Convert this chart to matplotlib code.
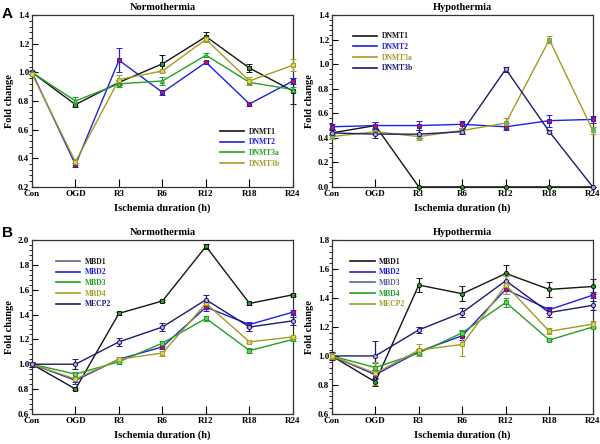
import numpy as np
import matplotlib
matplotlib.use("Agg")
import matplotlib.pyplot as plt
from matplotlib.ticker import MultipleLocator

plt.rcParams['font.family'] = ['Liberation Serif', 'DejaVu Serif']
plt.rcParams['font.weight'] = 'bold'

TIMEPOINTS = ["Con", "OGD", "R3", "R6", "R12", "R18", "R24"]

BLACK = "#151515"
BLUE = "#2020e0"
GREEN = "#24a024"
OLIVE = "#a39b22"
NAVY = "#1c1c70"
SLATE = "#5a6898"

# Panel A - Normothermia
a_norm_names = ["DNMT1", "DNMT2", "DNMT3a", "DNMT3b"]
a_norm_vals = [
    [1.00, 0.775, 0.93, 1.06, 1.25, 1.03, 0.87],
    [1.00, 0.355, 1.085, 0.86, 1.07, 0.78, 0.94],
    [1.00, 0.80, 0.92, 0.94, 1.12, 0.93, 0.88],
    [0.99, 0.375, 0.95, 1.01, 1.23, 0.94, 1.05],
]
a_norm_err = [
    [0.01, 0.02, 0.02, 0.06, 0.03, 0.03, 0.09],
    [0.01, 0.015, 0.085, 0.015, 0.01, 0.015, 0.02],
    [0.01, 0.03, 0.02, 0.03, 0.015, 0.02, 0.02],
    [0.01, 0.02, 0.03, 0.01, 0.02, 0.03, 0.04],
]

# Panel A - Hypothermia
a_hypo_names = ["DNMT1", "DNMT2", "DNMT3a", "DNMT3b"]
a_hypo_vals = [
    [0.44, 0.50, 0.0, 0.0, 0.0, 0.0, 0.0],
    [0.49, 0.50, 0.50, 0.51, 0.49, 0.54, 0.55],
    [0.41, 0.45, 0.41, 0.46, 0.52, 1.20, 0.46],
    [0.44, 0.43, 0.43, 0.45, 0.96, 0.45, 0.0],
]
a_hypo_err = [
    [0.02, 0.03, 0.0, 0.0, 0.0, 0.0, 0.0],
    [0.02, 0.03, 0.04, 0.03, 0.03, 0.05, 0.03],
    [0.02, 0.03, 0.03, 0.02, 0.04, 0.03, 0.03],
    [0.02, 0.03, 0.03, 0.02, 0.02, 0.01, 0.0],
]

# Panel B - Normothermia
b_norm_names = ["MBD1", "MBD2", "MBD3", "MBD4", "MECP2"]
b_norm_vals = [
    [1.00, 0.80, 1.41, 1.51, 1.95, 1.49, 1.56],
    [1.00, 0.87, 1.04, 1.14, 1.46, 1.32, 1.42],
    [1.00, 0.92, 1.02, 1.17, 1.37, 1.11, 1.20],
    [1.00, 0.88, 1.04, 1.09, 1.49, 1.18, 1.22],
    [1.00, 1.00, 1.18, 1.30, 1.52, 1.30, 1.35],
]
b_norm_err = [
    [0.01, 0.01, 0.01, 0.01, 0.02, 0.01, 0.01],
    [0.02, 0.03, 0.02, 0.02, 0.03, 0.02, 0.02],
    [0.01, 0.02, 0.02, 0.02, 0.02, 0.02, 0.01],
    [0.01, 0.02, 0.02, 0.02, 0.02, 0.01, 0.01],
    [0.02, 0.04, 0.03, 0.03, 0.04, 0.03, 0.03],
]

# Panel B - Hypothermia
b_hypo_names = ["MBD1", "MBD2", "MBD3", "MBD4", "MECP2"]
b_hypo_vals = [
    [1.00, 0.82, 1.49, 1.43, 1.57, 1.46, 1.48],
    [1.00, 0.87, 1.03, 1.14, 1.46, 1.32, 1.42],
    [1.00, 1.00, 1.18, 1.30, 1.52, 1.30, 1.35],
    [1.00, 0.92, 1.02, 1.16, 1.37, 1.11, 1.20],
    [1.00, 0.88, 1.04, 1.08, 1.49, 1.17, 1.22],
]
b_hypo_err = [
    [0.02, 0.03, 0.05, 0.05, 0.06, 0.05, 0.05],
    [0.02, 0.03, 0.02, 0.03, 0.03, 0.02, 0.02],
    [0.03, 0.10, 0.02, 0.03, 0.05, 0.03, 0.03],
    [0.02, 0.03, 0.02, 0.02, 0.03, 0.01, 0.01],
    [0.02, 0.08, 0.04, 0.08, 0.06, 0.02, 0.02],
]

# (line color, marker, marker face, legend line color)
STYLE = {
    "A_norm": [(BLACK, 's', GREEN, BLACK), (BLUE, 's', "#e01010", BLUE),
               (GREEN, '^', "#60d060", GREEN), (OLIVE, 's', "#d8d060", OLIVE)],
    "A_hypo": [(BLACK, 'o', GREEN, BLACK), (BLUE, 's', "#e01010", BLUE),
               (OLIVE, 's', "#40c0a0", OLIVE), (NAVY, 'o', "#c0a0e0", NAVY)],
    "B_norm": [(BLACK, 's', GREEN, "#666666"), (BLUE, 's', "#e01010", BLUE),
               (GREEN, 's', "#60d060", GREEN), (OLIVE, 's', "#d8d060", OLIVE),
               (NAVY, 'o', "#c0a0e0", NAVY)],
    "B_hypo": [(BLACK, 'o', GREEN, BLACK), (BLUE, 's', "#e01010", BLUE),
               (NAVY, 'o', "#c0a0e0", SLATE), (GREEN, 's', "#60d060", GREEN),
               (OLIVE, 's', "#d8d060", OLIVE)],
}


def draw_panel(ax, names, vals, errs, styles, title, ylim, legend_loc, legend_anchor):
    x = np.arange(len(TIMEPOINTS))
    for name, v, e, (lc, mk, mf, legc) in zip(names, vals, errs, styles):
        ax.errorbar(x, v, yerr=e, color=lc, lw=1.0, marker=mk, ms=3,
                    mfc=mf, mec=lc, mew=0.7, elinewidth=0.9, capsize=2,
                    capthick=0.9, clip_on=False, zorder=3)
        ax.plot([], [], color=legc, lw=1.2, label=name)
    ax.set_xlim(0, len(TIMEPOINTS) - 1)
    ax.set_ylim(*ylim)
    ax.set_xticks(x)
    ax.set_xticklabels(TIMEPOINTS)
    ax.yaxis.set_major_locator(MultipleLocator(0.2))
    ax.yaxis.set_minor_locator(MultipleLocator(0.04))
    ax.yaxis.set_major_formatter(matplotlib.ticker.FormatStrFormatter('%.1f'))
    ax.tick_params(axis='both', direction='in', labelsize=6.5, width=0.8,
                   top=False, right=False, pad=2)
    ax.tick_params(axis='x', length=6)
    ax.tick_params(axis='y', which='major', length=4)
    ax.tick_params(axis='y', which='minor', length=2, width=0.6)
    for s in ax.spines.values():
        s.set_linewidth(0.9)
        s.set_color("#333333")
    ax.set_title(title, fontsize=7.5, fontweight='bold', pad=4)
    ax.set_xlabel("Ischemia duration (h)", fontsize=7.5, fontweight='bold', labelpad=4)
    ax.set_ylabel("Fold change", fontsize=7.5, fontweight='bold', labelpad=3)
    leg = ax.legend(loc=legend_loc, bbox_to_anchor=legend_anchor, frameon=False,
                    fontsize=5.5, handlelength=3.2, handletextpad=0.6,
                    labelspacing=0.35, borderpad=0.2)
    for txt, (lc, mk, mf, legc) in zip(leg.get_texts(), styles):
        txt.set_color(legc if legc != "#666666" else BLACK)
        txt.set_fontweight('bold')


fig = plt.figure(figsize=(6, 4.44), dpi=100)
ax1 = fig.add_axes([0.0533, 0.579, 0.435, 0.387])
ax2 = fig.add_axes([0.553, 0.579, 0.435, 0.387])
ax3 = fig.add_axes([0.0533, 0.068, 0.435, 0.391])
ax4 = fig.add_axes([0.553, 0.068, 0.435, 0.391])

draw_panel(ax1, a_norm_names, a_norm_vals, a_norm_err, STYLE["A_norm"],
           "Normothermia", (0.2, 1.4), 'lower right', (0.97, 0.08))
draw_panel(ax2, a_hypo_names, a_hypo_vals, a_hypo_err, STYLE["A_hypo"],
           "Hypothermia", (0.0, 1.4), 'upper left', (0.06, 0.93))
draw_panel(ax3, b_norm_names, b_norm_vals, b_norm_err, STYLE["B_norm"],
           "Normothermia", (0.6, 2.0), 'upper left', (0.07, 0.93))
draw_panel(ax4, b_hypo_names, b_hypo_vals, b_hypo_err, STYLE["B_hypo"],
           "Hypothermia", (0.6, 1.8), 'upper left', (0.05, 0.93))

fig.text(0.003, 0.985, "A", fontsize=11, fontweight='bold', va='top',
         family=['Liberation Sans', 'DejaVu Sans'])
fig.text(0.003, 0.49, "B", fontsize=11, fontweight='bold', va='top',
         family=['Liberation Sans', 'DejaVu Sans'])

fig.savefig("out.png", dpi=100)
